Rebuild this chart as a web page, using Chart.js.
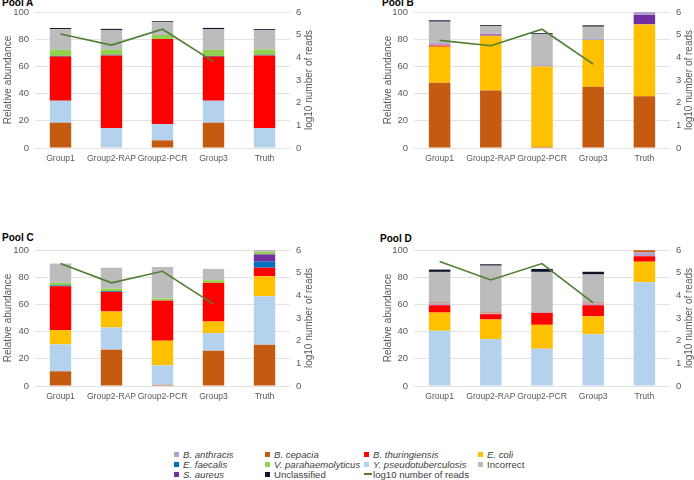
<!DOCTYPE html>
<html>
<head>
<meta charset="utf-8">
<script src="https://cdn.jsdelivr.net/npm/chart.js@4/dist/chart.umd.min.js"></script>
<style>
  body { margin: 0; background: #fff; }
  #wrap { position: relative; width: 694px; height: 480px; overflow: hidden; font-family: "Liberation Sans", Arial, sans-serif; }
  canvas { position: absolute; }
  .pool { position: absolute; font-size: 10px; font-weight: bold; color: #000; line-height: 12px; }
  .leg { position: absolute; font-size: 9.6px; color: #404040; line-height: 10px; white-space: nowrap; }
  .leg i.box { display: inline-block; width: 5px; height: 5px; margin-right: 4px; vertical-align: 1px; }
  .leg i.ln { display: inline-block; width: 8px; height: 2px; margin-right: 1px; vertical-align: 3px; }
  .leg span.it { font-style: italic; }
</style>
</head>
<body>
<div id="wrap">
  <div class="pool" style="left:2px;top:-3px">Pool A</div>
  <div class="pool" style="left:382px;top:-3px">Pool B</div>
  <div class="pool" style="left:2px;top:232px">Pool C</div>
  <div class="pool" style="left:380px;top:233px">Pool D</div>
  <canvas id="chartA" width="320" height="172" style="left:0;top:0"></canvas>
  <canvas id="chartB" width="314" height="172" style="left:380px;top:0"></canvas>
  <canvas id="chartC" width="320" height="172" style="left:0;top:238px"></canvas>
  <canvas id="chartD" width="314" height="172" style="left:380px;top:238px"></canvas>
  <div id="legend"></div>
</div>
<script>
const groups = ['Group1', 'Group2-RAP', 'Group2-PCR', 'Group3', 'Truth'];

// legend order (row by row) and colours
const speciesNames = ['B. anthracis', 'B. cepacia', 'B. thuringiensis', 'E. coli',
    'E. faecalis', 'V. parahaemolyticus', 'Y. pseudotuberculosis', 'Incorrect',
    'S. aureus', 'Unclassified'];
const speciesColors = ['#b4a0c8', '#c55a11', '#ff0000', '#ffc000',
    '#0070c0', '#92d050', '#b4d2ee', '#bcbcbc',
    '#7030a0', '#10142a'];
const readsLabel = 'log10 number of reads';

// Pool A
const poolA_cepacia   = [18.6, 0, 5.6, 18.6, 0];
const poolA_ypseudo   = [16.2, 14.7, 12.0, 16.2, 14.7];
const poolA_thur      = [32.4, 53.4, 62.5, 32.4, 53.4];
const poolA_faecalis  = [0.5, 0.5, 0, 0.5, 0.5];
const poolA_vpara     = [4.5, 3.9, 3.0, 4.5, 3.8];
const poolA_incorrect = [15.2, 14.3, 9.5, 15.3, 14.2];
const poolA_unclass   = [0.8, 0.8, 0.6, 0.8, 0.8];
const poolA_reads     = [5.03, 4.54, 5.24, 3.81, null];

// Pool B
const poolB_cepacia   = [48.0, 42.2, 0.8, 45.1, 38.0];
const poolB_ecoli     = [26.5, 40.4, 59.2, 34.3, 52.9];
const poolB_thur      = [0.8, 0, 0, 0, 0];
const poolB_aureus    = [0, 0.9, 0, 0, 6.9];
const poolB_anthracis = [2.0, 0.8, 1.0, 0.8, 2.2];
const poolB_incorrect = [15.6, 5.2, 22.6, 9.0, 0];
const poolB_unclass   = [1.0, 0.8, 0.8, 1.0, 0];
const poolB_reads     = [4.75, 4.51, 5.24, 3.70, null];

// Pool C
const poolC_cepacia   = [10.8, 26.7, 0.8, 25.9, 30.3];
const poolC_ypseudo   = [19.8, 16.3, 14.4, 13.0, 35.7];
const poolC_ecoli     = [10.5, 11.8, 18.1, 8.5, 14.7];
const poolC_thur      = [32.2, 14.4, 29.5, 28.4, 6.3];
const poolC_faecalis  = [0.7, 0.6, 0, 0, 4.4];
const poolC_aureus    = [0, 0, 0, 0, 5.4];
const poolC_vpara     = [1.8, 1.8, 1.5, 2.0, 2.0];
const poolC_anthracis = [0, 0, 0, 0, 1.0];
const poolC_incorrect = [14.2, 15.4, 23.2, 8.3, 0];
const poolC_reads     = [5.40, 4.55, 5.06, 3.61, null];

// Pool D
const poolD_ypseudo   = [40.6, 34.5, 27.4, 38.1, 76.3];
const poolD_ecoli     = [13.4, 14.4, 17.6, 13.2, 15.1];
const poolD_thur      = [5.4, 3.9, 8.8, 8.1, 4.0];
const poolD_anthracis = [1.5, 0.6, 0.5, 1.4, 2.9];
const poolD_cepacia   = [0.5, 0.6, 0, 0.6, 1.5];
const poolD_incorrect = [22.5, 34.5, 29.6, 20.6, 0];
const poolD_unclass   = [1.7, 1.0, 2.2, 2.0, 0];
const poolD_reads     = [5.49, 4.68, 5.40, 3.67, null];

const colorOf = (name) => speciesColors[speciesNames.indexOf(name)];
const tickColor = '#595959';
const fontFam = '"Liberation Sans", Arial, sans-serif';

// right axis title reads bottom-to-top like the left one
const rightTitle = {
    id: 'rightTitle',
    afterDraw(chart) {
        const { ctx, chartArea } = chart;
        ctx.save();
        ctx.translate(chartArea.right + 19, (chartArea.top + chartArea.bottom) / 2);
        ctx.rotate(-Math.PI / 2);
        ctx.font = '10px ' + fontFam;
        ctx.fillStyle = tickColor;
        ctx.textAlign = 'center';
        ctx.textBaseline = 'middle';
        ctx.fillText(readsLabel, 0, 0);
        ctx.restore();
    }
};

const makePanel = (id, stack, reads, leftW, rightW) => {
    const datasets = stack.map(([name, data]) => ({
        type: 'bar',
        label: name,
        data: data,
        backgroundColor: colorOf(name),
        borderWidth: 0,
        barPercentage: 0.42,
        categoryPercentage: 1,
        yAxisID: 'y',
        order: 2
    }));
    datasets.push({
        type: 'line',
        label: readsLabel,
        data: reads,
        borderColor: '#507e32',
        borderWidth: 1.6,
        pointRadius: 0,
        tension: 0,
        fill: false,
        yAxisID: 'y1',
        order: 1
    });

    new Chart(document.getElementById(id), {
        data: { labels: groups, datasets: datasets },
        options: {
            responsive: false,
            animation: false,
            layout: { padding: { top: 12, left: 0, right: 0, bottom: 0 } },
            plugins: { legend: { display: false }, tooltip: { enabled: false } },
            scales: {
                x: {
                    stacked: true,
                    grid: { display: false, drawTicks: false },
                    border: { display: false },
                    ticks: { color: tickColor, font: { size: 8.6, family: fontFam }, padding: 5, maxRotation: 0, autoSkip: false },
                    afterFit: (s) => { s.height = 24; }
                },
                y: {
                    stacked: true,
                    min: 0, max: 100,
                    position: 'left',
                    ticks: { stepSize: 10, color: tickColor, font: { size: 9.5, family: fontFam }, padding: 6 },
                    grid: { color: '#e2e2e2', drawTicks: false },
                    border: { display: false },
                    title: { display: true, text: 'Relative abundance', color: tickColor, font: { size: 10, family: fontFam }, padding: { top: 2, bottom: 0 } },
                    afterFit: (s) => { s.width = leftW; }
                },
                y1: {
                    stacked: false,
                    min: 0, max: 6,
                    position: 'right',
                    ticks: { stepSize: 1, color: tickColor, font: { size: 9.5, family: fontFam }, padding: 6 },
                    grid: { display: false, drawTicks: false },
                    border: { display: false },
                    afterFit: (s) => { s.width = rightW; }
                }
            }
        },
        plugins: [rightTitle]
    });
};

makePanel('chartA', [
    ['B. cepacia', poolA_cepacia],
    ['Y. pseudotuberculosis', poolA_ypseudo],
    ['B. thuringiensis', poolA_thur],
    ['E. faecalis', poolA_faecalis],
    ['V. parahaemolyticus', poolA_vpara],
    ['Incorrect', poolA_incorrect],
    ['Unclassified', poolA_unclass]
], poolA_reads, 35, 30);

makePanel('chartB', [
    ['B. cepacia', poolB_cepacia],
    ['E. coli', poolB_ecoli],
    ['B. thuringiensis', poolB_thur],
    ['S. aureus', poolB_aureus],
    ['B. anthracis', poolB_anthracis],
    ['Incorrect', poolB_incorrect],
    ['Unclassified', poolB_unclass]
], poolB_reads, 34, 24);

makePanel('chartC', [
    ['B. cepacia', poolC_cepacia],
    ['Y. pseudotuberculosis', poolC_ypseudo],
    ['E. coli', poolC_ecoli],
    ['B. thuringiensis', poolC_thur],
    ['E. faecalis', poolC_faecalis],
    ['S. aureus', poolC_aureus],
    ['V. parahaemolyticus', poolC_vpara],
    ['B. anthracis', poolC_anthracis],
    ['Incorrect', poolC_incorrect]
], poolC_reads, 35, 30);

makePanel('chartD', [
    ['Y. pseudotuberculosis', poolD_ypseudo],
    ['E. coli', poolD_ecoli],
    ['B. thuringiensis', poolD_thur],
    ['B. anthracis', poolD_anthracis],
    ['B. cepacia', poolD_cepacia],
    ['Incorrect', poolD_incorrect],
    ['Unclassified', poolD_unclass]
], poolD_reads, 34, 24);

// shared legend, 4 columns
const legend = document.getElementById('legend');
const colX = [174, 265, 364, 478];
const rowY = [450, 460, 470];
const items = speciesNames.concat([readsLabel]);
items.forEach((name, i) => {
    const div = document.createElement('div');
    div.className = 'leg';
    div.style.left = colX[i % 4] + 'px';
    div.style.top = rowY[Math.floor(i / 4)] + 'px';
    const plain = name === 'Incorrect' || name === 'Unclassified' || name === readsLabel;
    const marker = name === readsLabel
        ? '<i class="ln" style="background:#507e32"></i>'
        : '<i class="box" style="background:' + colorOf(name) + '"></i>';
    div.innerHTML = marker + '<span class="' + (plain ? '' : 'it') + '">' + name + '</span>';
    legend.appendChild(div);
});
</script>
</body>
</html>
